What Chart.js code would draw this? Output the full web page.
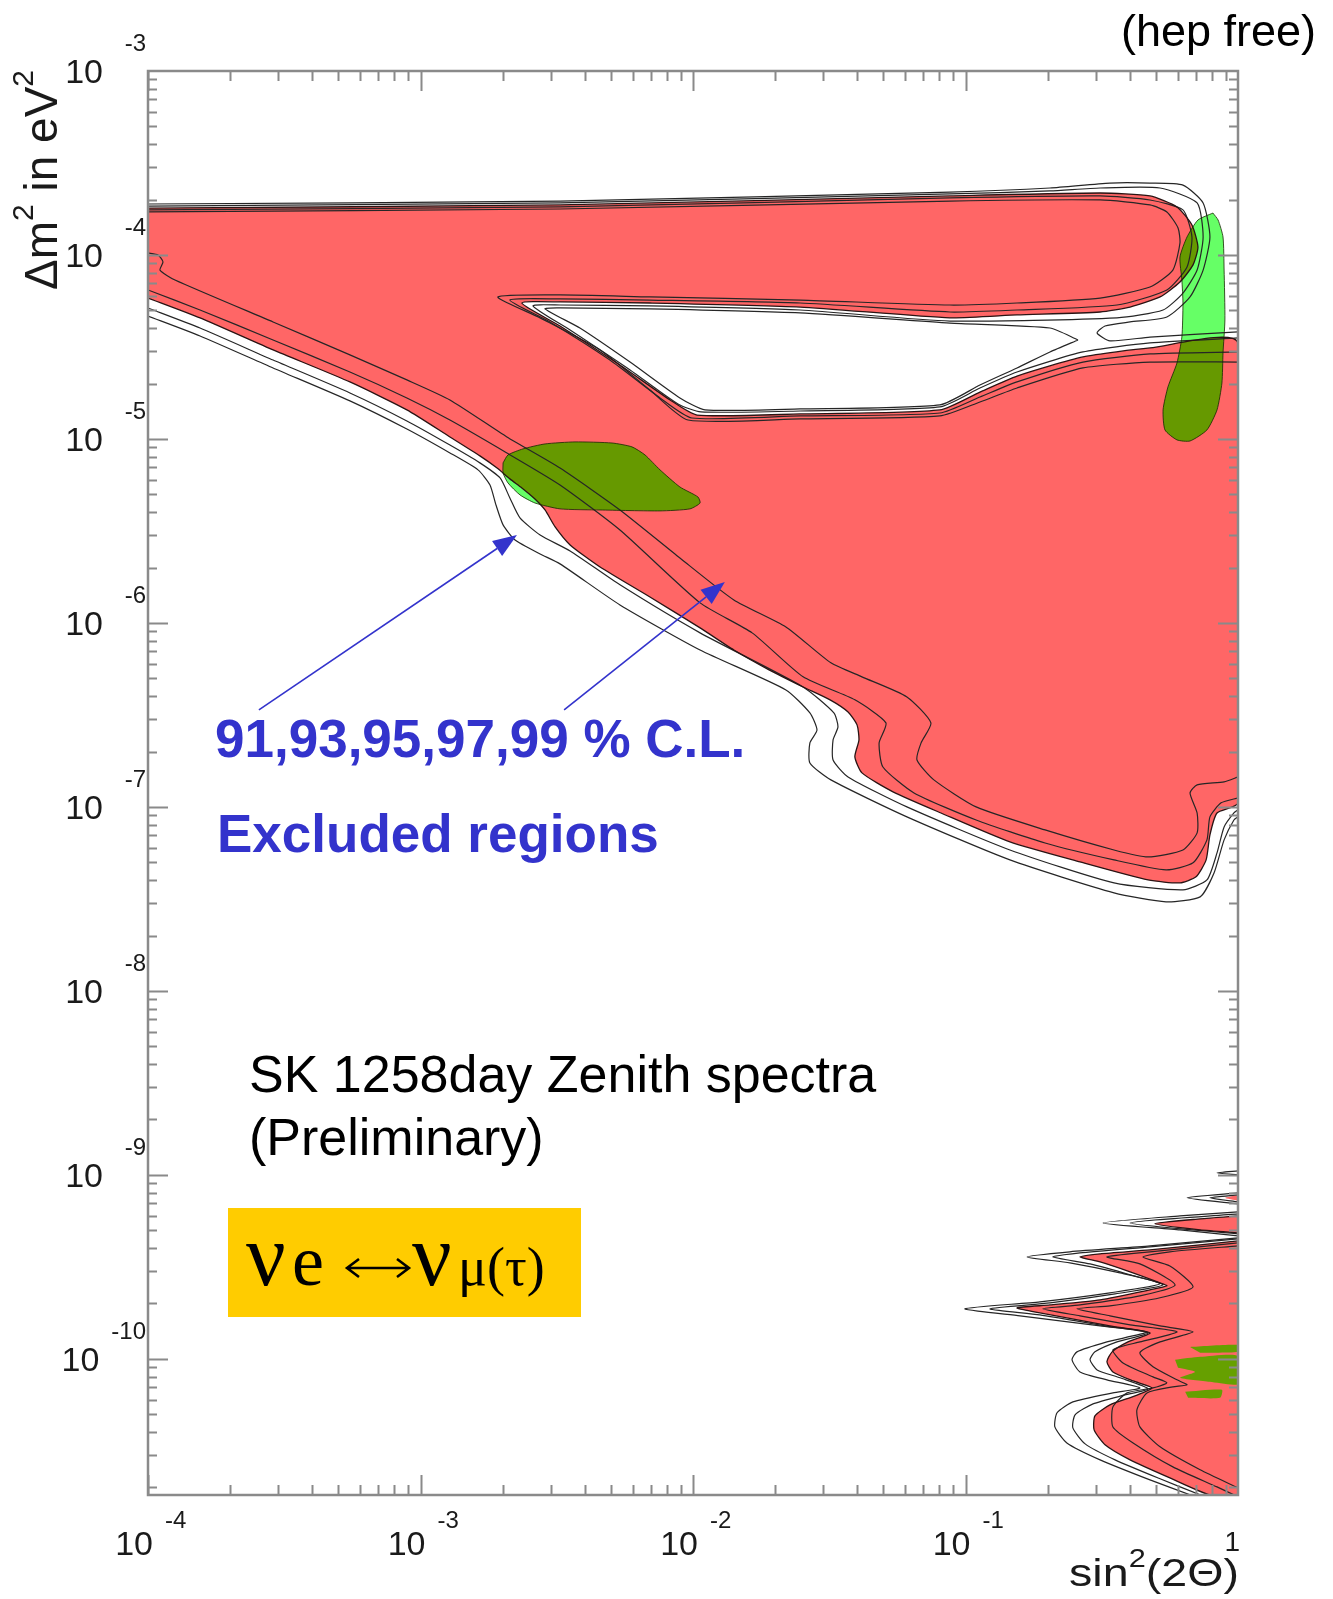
<!DOCTYPE html>
<html><head><meta charset="utf-8">
<script src="https://cdn.jsdelivr.net/npm/chart.js@4.4.1/dist/chart.umd.min.js"></script>
<style>html,body{margin:0;padding:0;background:#fff;}canvas{display:block;}</style>
</head><body>
<canvas id="c" width="1333" height="1599" style="width:1333px;height:1599px"></canvas>
<script>
// ---------- axis ranges / ticks (log10 units) ----------
const xRangeExp = [-4, 0];
const yRangeExp = [-10.74, -3];
const xTickExps = [-4, -3, -2, -1, 0];
const yTickExps = [-3, -4, -5, -6, -7, -8, -9, -10];
const clLevels = '91,93,95,97,99';

// ---------- data: [log10 sin^2(2θ), log10 Δm²] ----------
// 95% C.L. excluded region (red fill), large-Δm² island
const redMain = [[-4.000,-3.745],[-2.488,-3.728],[-1.057,-3.679],[-0.506,-3.663],[-0.323,-3.679],[-0.224,-3.739],[-0.169,-3.837],[-0.147,-3.957],[-0.165,-4.054],[-0.213,-4.147],[-0.286,-4.228],[-0.396,-4.283],[-0.506,-4.310],[-0.811,-4.326],[-1.057,-4.342],[-1.607,-4.283],[-2.158,-4.261],[-2.488,-4.255],[-2.628,-4.261],[-2.488,-4.386],[-2.268,-4.598],[-2.084,-4.788],[-1.985,-4.870],[-1.607,-4.864],[-1.094,-4.842],[-0.947,-4.745],[-0.811,-4.658],[-0.569,-4.554],[-0.323,-4.505],[0,-4.478],[0,-6.978],[-0.077,-7.033],[-0.103,-7.152],[-0.117,-7.288],[-0.154,-7.380],[-0.213,-7.413],[-0.330,-7.397],[-0.580,-7.299],[-0.837,-7.190],[-1.090,-7.033],[-1.266,-6.918],[-1.380,-6.815],[-1.406,-6.728],[-1.391,-6.636],[-1.398,-6.554],[-1.431,-6.484],[-1.497,-6.418],[-1.596,-6.348],[-1.721,-6.255],[-1.850,-6.147],[-1.974,-6.027],[-2.158,-5.859],[-2.341,-5.696],[-2.451,-5.576],[-2.506,-5.478],[-2.543,-5.386],[-2.580,-5.326],[-2.628,-5.266],[-2.672,-5.217],[-2.719,-5.158],[-2.782,-5.092],[-2.892,-4.989],[-3.050,-4.842],[-3.259,-4.690],[-3.541,-4.516],[-3.809,-4.342],[-4.000,-4.234]];
// 95% C.L. excluded region, low-Δm² lobes
const redLow = [[0,-9.359],[-0.139,-9.380],[-0.323,-9.408],[-0.506,-9.429],[-0.580,-9.446],[-0.506,-9.473],[-0.396,-9.527],[-0.286,-9.587],[-0.261,-9.603],[-0.323,-9.625],[-0.506,-9.679],[-0.690,-9.707],[-0.811,-9.723],[-0.727,-9.750],[-0.628,-9.777],[-0.470,-9.821],[-0.323,-9.859],[-0.404,-9.908],[-0.462,-9.962],[-0.481,-10.016],[-0.459,-10.071],[-0.385,-10.120],[-0.316,-10.158],[-0.378,-10.201],[-0.470,-10.250],[-0.525,-10.310],[-0.528,-10.386],[-0.488,-10.467],[-0.396,-10.549],[-0.250,-10.647],[-0.103,-10.739],[0,-10.739]];
const redSpikeB = [[0,-9.223],[-0.139,-9.239],[-0.305,-9.266],[-0.139,-9.299],[0,-9.315]];
const redSpikeA = [[0,-9.109],[-0.048,-9.125],[0,-9.141]];

// contours, upper part (top edge -> hole -> right edge)
const c99a = [[-4.000,-3.766],[-2.488,-3.750],[-1.057,-3.707],[-0.506,-3.701],[-0.323,-3.728],[-0.261,-3.766],[-0.220,-3.853],[-0.213,-3.935],[-0.239,-4.082],[-0.323,-4.174],[-0.506,-4.234],[-0.811,-4.261],[-1.057,-4.272],[-1.607,-4.245],[-2.158,-4.228],[-2.488,-4.217],[-2.716,-4.228],[-2.561,-4.342],[-2.341,-4.516],[-2.158,-4.734],[-2.018,-4.897],[-1.607,-4.891],[-1.094,-4.875],[-0.947,-4.799],[-0.811,-4.723],[-0.569,-4.614],[-0.323,-4.582],[0,-4.582]];
const c97a = [[-4.000,-3.755],[-2.488,-3.739],[-1.057,-3.690],[-0.506,-3.679],[-0.323,-3.701],[-0.202,-3.755],[-0.169,-3.902],[-0.187,-4.065],[-0.261,-4.190],[-0.444,-4.272],[-0.811,-4.299],[-1.057,-4.310],[-1.607,-4.261],[-2.158,-4.245],[-2.488,-4.239],[-2.672,-4.245],[-2.525,-4.364],[-2.305,-4.571],[-2.121,-4.777],[-2.004,-4.886],[-1.607,-4.875],[-1.094,-4.859],[-0.947,-4.772],[-0.811,-4.690],[-0.569,-4.582],[-0.323,-4.538],[0,-4.527]];
const c93a = [[-4.000,-3.734],[-2.488,-3.717],[-1.057,-3.668],[-0.690,-3.652],[-0.506,-3.636],[-0.286,-3.636],[-0.150,-3.717],[-0.128,-3.902],[-0.150,-4.082],[-0.202,-4.207],[-0.275,-4.299],[-0.444,-4.342],[-1.057,-4.359],[-1.607,-4.299],[-2.158,-4.277],[-2.488,-4.272],[-2.587,-4.277],[-2.451,-4.408],[-2.231,-4.625],[-2.055,-4.810],[-1.971,-4.853],[-1.607,-4.848],[-1.094,-4.826],[-0.947,-4.723],[-0.811,-4.636],[-0.569,-4.527],[-0.323,-4.478],[0,-4.451]];
const c91a = [[-4.000,-3.723],[-2.488,-3.707],[-1.057,-3.658],[-0.690,-3.636],[-0.470,-3.609],[-0.323,-3.609],[-0.202,-3.620],[-0.128,-3.717],[-0.103,-3.902],[-0.128,-4.082],[-0.176,-4.228],[-0.261,-4.337],[-0.396,-4.364],[-0.488,-4.386],[-0.517,-4.424],[-0.470,-4.467],[-0.323,-4.446],[0,-4.418]];
const c91hole = [[-0.587,-4.462],[-0.690,-4.397],[-1.057,-4.370],[-1.607,-4.315],[-2.158,-4.293],[-2.488,-4.288],[-2.543,-4.293],[-2.415,-4.397],[-2.231,-4.582],[-2.048,-4.777],[-1.956,-4.842],[-1.607,-4.837],[-1.094,-4.815],[-0.947,-4.707],[-0.811,-4.614],[-0.690,-4.527],[-0.587,-4.462]];
// contours, lower diagonal boundary
const c99b = [[-4.000,-3.989],[-3.963,-4.000],[-3.945,-4.038],[-3.956,-4.082],[-3.901,-4.136],[-3.541,-4.364],[-3.259,-4.543],[-3.050,-4.679],[-2.892,-4.788],[-2.683,-4.989],[-2.488,-5.158],[-2.268,-5.386],[-2.048,-5.647],[-1.850,-5.875],[-1.659,-6.022],[-1.494,-6.217],[-1.380,-6.293],[-1.215,-6.402],[-1.127,-6.543],[-1.163,-6.652],[-1.178,-6.745],[-1.116,-6.853],[-0.961,-7.000],[-0.708,-7.125],[-0.455,-7.234],[-0.330,-7.272],[-0.202,-7.234],[-0.150,-7.141],[-0.150,-7.033],[-0.176,-6.924],[-0.150,-6.880],[-0.051,-6.864],[0,-6.837]];
const c97b = [[-4.000,-4.190],[-3.809,-4.299],[-3.541,-4.462],[-3.259,-4.636],[-3.050,-4.777],[-2.892,-4.897],[-2.683,-5.076],[-2.488,-5.250],[-2.268,-5.495],[-1.974,-5.891],[-1.783,-6.054],[-1.596,-6.293],[-1.406,-6.418],[-1.292,-6.543],[-1.317,-6.652],[-1.303,-6.783],[-1.189,-6.924],[-0.961,-7.071],[-0.708,-7.196],[-0.455,-7.288],[-0.264,-7.342],[-0.165,-7.304],[-0.114,-7.179],[-0.103,-7.054],[-0.062,-6.978],[0,-6.951]];
const c93b = [[-4.000,-4.288],[-3.809,-4.397],[-3.541,-4.571],[-3.259,-4.750],[-3.050,-4.902],[-2.892,-5.033],[-2.782,-5.130],[-2.708,-5.212],[-2.672,-5.321],[-2.635,-5.429],[-2.561,-5.522],[-2.451,-5.609],[-2.268,-5.793],[-1.974,-6.054],[-1.596,-6.348],[-1.483,-6.489],[-1.468,-6.565],[-1.486,-6.636],[-1.486,-6.745],[-1.431,-6.837],[-1.215,-7.000],[-0.837,-7.234],[-0.455,-7.413],[-0.202,-7.451],[-0.114,-7.397],[-0.077,-7.250],[-0.051,-7.109],[-0.015,-7.033],[0,-7.016]];
const c91b = [[-4.000,-4.332],[-3.809,-4.440],[-3.541,-4.614],[-3.259,-4.793],[-3.050,-4.946],[-2.892,-5.076],[-2.789,-5.168],[-2.745,-5.250],[-2.723,-5.359],[-2.697,-5.467],[-2.653,-5.549],[-2.561,-5.625],[-2.488,-5.679],[-2.268,-5.902],[-1.974,-6.147],[-1.659,-6.364],[-1.571,-6.489],[-1.545,-6.582],[-1.571,-6.652],[-1.571,-6.761],[-1.494,-6.853],[-1.215,-7.054],[-0.837,-7.288],[-0.455,-7.467],[-0.264,-7.516],[-0.139,-7.489],[-0.088,-7.359],[-0.051,-7.179],[-0.015,-7.071],[0,-7.054]];
// contours, low-Δm² lobes
const lo91 = [[0,-9.342],[-0.323,-9.386],[-0.617,-9.418],[-0.774,-9.446],[-0.617,-9.478],[-0.433,-9.533],[-0.286,-9.592],[-0.470,-9.641],[-0.727,-9.690],[-1.002,-9.728],[-0.800,-9.766],[-0.506,-9.821],[-0.334,-9.853],[-0.481,-9.908],[-0.591,-9.962],[-0.609,-10.005],[-0.580,-10.071],[-0.481,-10.114],[-0.360,-10.158],[-0.459,-10.185],[-0.606,-10.234],[-0.664,-10.293],[-0.672,-10.370],[-0.628,-10.457],[-0.506,-10.549],[-0.323,-10.658],[-0.176,-10.739]];
const lo93 = [[0,-9.348],[-0.323,-9.391],[-0.580,-9.424],[-0.679,-9.446],[-0.543,-9.484],[-0.396,-9.543],[-0.275,-9.598],[-0.451,-9.647],[-0.690,-9.696],[-0.910,-9.728],[-0.727,-9.761],[-0.488,-9.821],[-0.330,-9.859],[-0.444,-9.908],[-0.525,-9.962],[-0.543,-10.005],[-0.517,-10.060],[-0.433,-10.103],[-0.330,-10.163],[-0.415,-10.196],[-0.532,-10.245],[-0.598,-10.304],[-0.606,-10.375],[-0.561,-10.462],[-0.451,-10.549],[-0.286,-10.652],[-0.139,-10.739]];
const lo97 = [[0,-9.370],[-0.323,-9.418],[-0.481,-9.446],[-0.360,-9.484],[-0.231,-9.598],[-0.360,-9.658],[-0.580,-9.707],[-0.716,-9.728],[-0.580,-9.766],[-0.396,-9.815],[-0.224,-9.853],[-0.360,-9.908],[-0.459,-9.951],[-0.422,-10.022],[-0.312,-10.098],[-0.261,-10.130],[-0.312,-10.158],[-0.407,-10.185],[-0.459,-10.261],[-0.459,-10.370],[-0.385,-10.457],[-0.239,-10.587],[-0.077,-10.696],[-0.015,-10.739]];
const lo99 = [[0,-9.386],[-0.250,-9.418],[-0.349,-9.446],[-0.250,-9.495],[-0.165,-9.609],[-0.286,-9.668],[-0.470,-9.712],[-0.591,-9.728],[-0.470,-9.766],[-0.286,-9.821],[-0.165,-9.853],[-0.286,-9.908],[-0.360,-9.967],[-0.312,-10.043],[-0.224,-10.114],[-0.187,-10.141],[-0.239,-10.152],[-0.334,-10.185],[-0.371,-10.277],[-0.360,-10.370],[-0.286,-10.478],[-0.139,-10.603],[0,-10.701]];
const spikeB91 = [[0,-9.201],[-0.213,-9.223],[-0.495,-9.261],[-0.213,-9.299],[0,-9.332]];
const spikeB93 = [[0,-9.212],[-0.396,-9.261],[0,-9.321]];
const spikeA91 = [[0,-9.098],[-0.187,-9.125],[0,-9.158]];
const spikeA93 = [[0,-9.109],[-0.103,-9.125],[0,-9.147]];
const spikeTop = [[0,-8.978],[-0.077,-8.989],[0,-9.000]];

// allowed regions (green)
const greenRight = [[-0.092,-3.772],[-0.147,-3.810],[-0.187,-3.902],[-0.213,-4.011],[-0.206,-4.136],[-0.202,-4.261],[-0.206,-4.446],[-0.224,-4.587],[-0.257,-4.717],[-0.275,-4.842],[-0.268,-4.951],[-0.224,-5.005],[-0.176,-5.011],[-0.114,-4.951],[-0.077,-4.842],[-0.059,-4.696],[-0.055,-4.533],[-0.048,-4.353],[-0.051,-4.082],[-0.055,-3.902],[-0.073,-3.810]];
const greenLMA = [[-2.697,-5.130],[-2.679,-5.087],[-2.624,-5.054],[-2.543,-5.027],[-2.433,-5.016],[-2.297,-5.022],[-2.224,-5.043],[-2.176,-5.087],[-2.121,-5.168],[-2.048,-5.261],[-1.982,-5.315],[-1.974,-5.348],[-2.011,-5.380],[-2.121,-5.391],[-2.341,-5.386],[-2.488,-5.380],[-2.580,-5.348],[-2.635,-5.304],[-2.679,-5.239],[-2.697,-5.185]];
const greenLow1 = [[-0.176,-9.935],[0,-9.924],[0,-9.962],[-0.139,-9.967]];
const greenLow2 = [[-0.231,-10.005],[-0.139,-9.989],[0,-9.984],[0,-10.136],[-0.103,-10.125],[-0.213,-10.103],[-0.158,-10.071],[-0.220,-10.049]];
const greenLow3 = [[-0.194,-10.179],[-0.059,-10.168],[-0.066,-10.212],[-0.183,-10.212]];

// annotation arrows (tail, head)
const arrowsLog = [[[-3.593,-6.473],[-2.646,-5.522]], [[-2.473,-6.473],[-1.883,-5.777]]];

// ---------- build datasets ----------
const P = a => a.map(([lx, ly]) => ({x: Math.pow(10, lx), y: Math.pow(10, ly)}));
const closed = a => a.concat([a[0]]);
const RED = '#FF6666', GREEN_LIGHT = '#66FF66', GREEN_DARK = '#669900', LINE = '#262626';
const datasets = [];
function addFill(data, color, order, composite) {
  datasets.push({data: P(data), showLine: true, fill: 'shape', backgroundColor: color,
    borderWidth: 0, borderColor: 'rgba(0,0,0,0)', pointRadius: 0, tension: 0.2, order, composite});
}
function addLine(data, color, width, order) {
  datasets.push({data: P(data), showLine: true, fill: false, borderColor: color,
    borderWidth: width, pointRadius: 0, tension: 0.2, order});
}
[redMain, redLow, redSpikeB, redSpikeA].forEach(d => addFill(d, RED, 100));
[greenRight, greenLMA].forEach(d => addFill(d, GREEN_DARK, 90, 'source-atop'));
[greenRight, greenLMA].forEach(d => addFill(d, GREEN_LIGHT, 80, 'destination-over'));
[greenLow1, greenLow2, greenLow3].forEach(d => addFill(d, '#66A000', 75));
[c99a, c97a, c93a, c91a, c91hole, c99b, c97b, c93b, c91b, lo91, lo93, lo97, lo99,
 spikeB91, spikeB93, spikeA91, spikeA93, spikeTop].forEach(d => addLine(d, LINE, 1.2, 50));
[redMain, redLow, redSpikeB].forEach(d => addLine(d, '#2a1414', 1.3, 45));
[greenRight, greenLMA].forEach(d => addLine(closed(d), 'rgba(20,40,0,0.8)', 1, 40));

// ---------- plugins ----------
const SANS = '"Liberation Sans", Arial, Helvetica, sans-serif';
const SERIF = '"Liberation Serif", "Times New Roman", serif';

const compositePlugin = {
  id: 'compositeOp',
  beforeDatasetDraw(chart, args) {
    const d = chart.data.datasets[args.index];
    if (d.composite) { chart.ctx.save(); chart.ctx.globalCompositeOperation = d.composite; }
  },
  afterDatasetDraw(chart, args) {
    const d = chart.data.datasets[args.index];
    if (d.composite) chart.ctx.restore();
  }
};
try {
  const filler = Chart.registry.getPlugin('filler');
  Chart.unregister(filler);
  Chart.register(compositePlugin);
  Chart.register(filler);
} catch (e) { Chart.register(compositePlugin); }

const framePlugin = {
  id: 'frameTicks',
  afterDatasetsDraw(chart) {
    const {ctx, chartArea: a, scales: {x, y}} = chart;
    ctx.save();
    ctx.strokeStyle = '#8a8a8a';
    ctx.lineWidth = 2;
    ctx.beginPath();
    for (let e = xRangeExp[0]; e < xRangeExp[1]; e++) {
      for (let m = 1; m <= 9; m++) {
        const px = Math.round(x.getPixelForValue(m * Math.pow(10, e))) + 0.5;
        const len = m === 1 ? 20 : 10;
        ctx.moveTo(px, a.bottom); ctx.lineTo(px, a.bottom - len);
        ctx.moveTo(px, a.top); ctx.lineTo(px, a.top + len);
      }
    }
    for (let e = Math.floor(yRangeExp[0]); e < yRangeExp[1]; e++) {
      for (let m = 1; m <= 9; m++) {
        const lv = e + Math.log10(m);
        if (lv < yRangeExp[0] || lv > yRangeExp[1]) continue;
        const py = Math.round(y.getPixelForValue(m * Math.pow(10, e))) + 0.5;
        const len = m === 1 ? 20 : 9;
        ctx.moveTo(a.left, py); ctx.lineTo(a.left + len, py);
        ctx.moveTo(a.right, py); ctx.lineTo(a.right - len, py);
      }
    }
    ctx.stroke();
    ctx.lineWidth = 2.5;
    ctx.strokeRect(a.left, a.top, a.right - a.left, a.bottom - a.top);
    ctx.restore();
  }
};

function arrow(ctx, x0, y0, x1, y1) {
  const ang = Math.atan2(y1 - y0, x1 - x0), L = 24, W = 9;
  const bx = x1 - L * Math.cos(ang), by = y1 - L * Math.sin(ang);
  ctx.beginPath(); ctx.moveTo(x0, y0); ctx.lineTo(bx, by); ctx.stroke();
  ctx.beginPath(); ctx.moveTo(x1, y1);
  ctx.lineTo(bx + W * Math.sin(ang), by - W * Math.cos(ang));
  ctx.lineTo(bx - W * Math.sin(ang), by + W * Math.cos(ang));
  ctx.closePath(); ctx.fill();
}

const annotPlugin = {
  id: 'annot',
  afterDraw(chart) {
    const {ctx, scales: {x, y}} = chart;
    ctx.save();
    ctx.textAlign = 'left'; ctx.textBaseline = 'alphabetic';
    // tick labels x
    ctx.fillStyle = '#1a1a1a';
    for (const e of xTickExps) {
      const px = x.getPixelForValue(Math.pow(10, e));
      if (e === 0) {
        ctx.font = '28px ' + SANS; ctx.textAlign = 'right';
        ctx.fillText('1', px + 2, 1551); ctx.textAlign = 'left';
        continue;
      }
      ctx.font = '34px ' + SANS; ctx.textAlign = 'right';
      ctx.fillText('10', px + 5, 1555);
      ctx.font = '24px ' + SANS; ctx.textAlign = 'left';
      ctx.fillText(String(e), px + 17, 1528);
    }
    // tick labels y
    for (const e of yTickExps) {
      const py = y.getPixelForValue(Math.pow(10, e));
      ctx.font = '24px ' + SANS; ctx.textAlign = 'right';
      const ew = ctx.measureText(String(e)).width;
      ctx.fillText(String(e), 146, py - 20);
      ctx.font = '34px ' + SANS;
      ctx.fillText('10', Math.min(103, 146 - ew - 12), py + 12);
    }
    ctx.textAlign = 'left';
    // y title (rotated)
    ctx.save();
    ctx.translate(57, 180); ctx.rotate(-Math.PI / 2);
    const yParts = [['\u0394m', '46px ' + SANS, 0], ['2', '30px ' + SANS, -24], [' in eV', '46px ' + SANS, 0], ['2', '30px ' + SANS, -24]];
    let tot = 0; for (const [t, f] of yParts) { ctx.font = f; tot += ctx.measureText(t).width; }
    let cx = -tot / 2;
    for (const [t, f, dy] of yParts) { ctx.font = f; ctx.fillText(t, cx, dy); cx += ctx.measureText(t).width; }
    ctx.restore();
    // x title
    ctx.save();
    const xParts = [['sin', '38px ' + SANS, 0], ['2', '25px ' + SANS, -19], ['(2\u0398)', '38px ' + SANS, 0]];
    tot = 0; for (const [t, f] of xParts) { ctx.font = f; tot += ctx.measureText(t).width; }
    const sx = 170 / tot;
    ctx.translate(1239 - 170, 1586); ctx.scale(sx, 1);
    cx = 0;
    for (const [t, f, dy] of xParts) { ctx.font = f; ctx.fillText(t, cx, dy); cx += ctx.measureText(t).width; }
    ctx.restore();
    // hep free
    ctx.font = '45px ' + SANS; ctx.textAlign = 'right'; ctx.fillStyle = '#000';
    ctx.fillText('(hep free)', 1316, 46);
    ctx.textAlign = 'left';
    // blue annotation
    ctx.fillStyle = '#3333CC'; ctx.strokeStyle = '#3333CC'; ctx.lineWidth = 1.6;
    ctx.font = 'bold 53px ' + SANS;
    ctx.fillText(clLevels + ' % C.L.', 215, 757);
    ctx.fillText('Excluded regions', 217, 852);
    for (const [t, h] of arrowsLog) {
      arrow(ctx, x.getPixelForValue(Math.pow(10, t[0])), y.getPixelForValue(Math.pow(10, t[1])),
                 x.getPixelForValue(Math.pow(10, h[0])), y.getPixelForValue(Math.pow(10, h[1])));
    }
    // SK text
    ctx.fillStyle = '#000';
    ctx.font = '52px ' + SANS;
    ctx.fillText('SK 1258day Zenith spectra', 249, 1092);
    ctx.fillText('(Preliminary)', 249, 1155);
    // yellow box
    ctx.fillStyle = '#FFCC00';
    ctx.fillRect(228, 1208, 353, 109);
    ctx.fillStyle = '#000';
    ctx.font = '88px ' + SERIF;
    ctx.fillText('\u03BD', 246, 1285);
    ctx.fillText('\u03BD', 412, 1285);
    ctx.font = '72px ' + SERIF;
    ctx.fillText('e', 292, 1285);
    ctx.font = '54px ' + SERIF;
    ctx.fillText('\u03BC(\u03C4)', 458, 1285);
    // double arrow
    ctx.strokeStyle = '#000'; ctx.lineWidth = 2.6;
    ctx.beginPath();
    ctx.moveTo(347, 1268); ctx.lineTo(409, 1268);
    ctx.moveTo(359, 1259); ctx.lineTo(347, 1268); ctx.lineTo(359, 1277);
    ctx.moveTo(397, 1259); ctx.lineTo(409, 1268); ctx.lineTo(397, 1277);
    ctx.stroke();
    ctx.restore();
  }
};

new Chart(document.getElementById('c'), {
  type: 'scatter',
  data: {datasets},
  options: {
    responsive: false,
    animation: false,
    events: [],
    devicePixelRatio: 1,
    layout: {padding: {left: 148, right: 95, top: 71, bottom: 104}},
    scales: {
      x: {type: 'logarithmic', min: Math.pow(10, xRangeExp[0]), max: Math.pow(10, xRangeExp[1]), display: false},
      y: {type: 'logarithmic', min: Math.pow(10, yRangeExp[0]), max: Math.pow(10, yRangeExp[1]), display: false}
    },
    plugins: {legend: {display: false}, tooltip: {enabled: false}}
  },
  plugins: [framePlugin, annotPlugin]
});
</script>
</body></html>
